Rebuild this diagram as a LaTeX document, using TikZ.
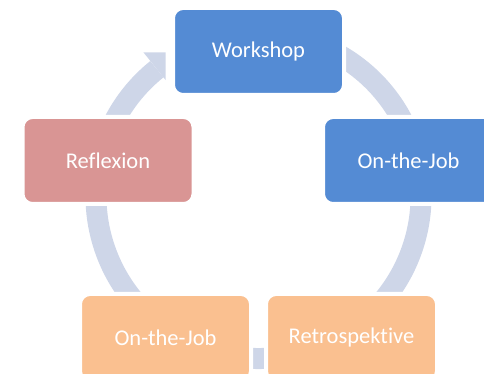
\documentclass[tikz,border=0pt]{standalone}
\usepackage{fontspec}
\setmainfont{Carlito}[Ligatures=NoCommon]
\definecolor{ringcol}{RGB}{206,214,232}
\definecolor{bluebox}{RGB}{84,139,212}
\definecolor{redbox}{RGB}{217,149,148}
\definecolor{orangebox}{RGB}{250,192,144}
\tikzset{
  stage/.style={rectangle, rounded corners=10pt, minimum width=171pt, minimum height=87pt,
    draw=white, line width=4pt, text=white, font=\fontsize{22.5}{27}\selectfont, inner sep=0pt},
  cyclering/.style={draw=ringcol, line width=21pt},
}
\begin{document}
\begin{tikzpicture}[x=1pt, y=1pt]
  \useasboundingbox (0,0) rectangle (484,374);
  \clip (0,0) rectangle (484,374);
  \coordinate (hub) at (258.5,178);

  % circular flow, running clockwise
  \begin{scope}[shift={(hub)}]
    \draw[cyclering] (65:162.5) arc[start angle=65, end angle=-231.3, radius=162.5];
    \begin{scope}
      \clip (-300,-300) rectangle (-93,300);
      \fill[ringcol] (128.7:184) -- (118:162.5) -- (128.7:141) -- cycle;
    \end{scope}
  \end{scope}

  % stages of the cycle
  \node[stage, fill=bluebox]   (workshop) at (258.5,322.5) {Workshop};
  \node[stage, fill=bluebox]   (jobright) at (408.5,213.5) {On-the-Job};
  \node[stage, fill=orangebox] (retro)    at (351.5,36.5)  {Retrospektive};
  \node[stage, fill=orangebox] (jobleft)  at (165.5,36.5)  {On-the-Job};
  \node[stage, fill=redbox]    (reflex)   at (108,213.5)   {Reflexion};
\end{tikzpicture}
\end{document}
